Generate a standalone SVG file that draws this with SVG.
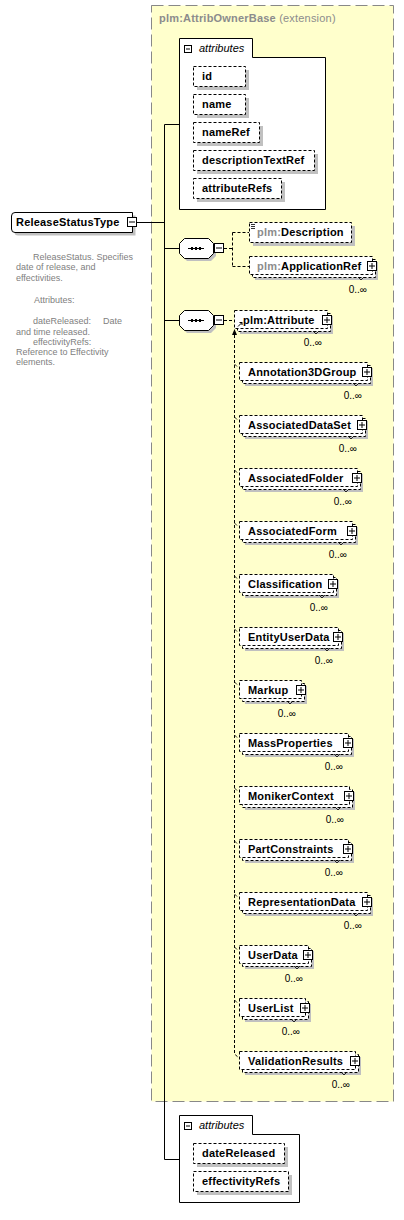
<svg xmlns="http://www.w3.org/2000/svg" width="404" height="1220" viewBox="0 0 404 1220">
<defs>
<style>
.sh{fill:#c0c0c0}
.bx{fill:#fff;stroke:#000;stroke-width:1;stroke-dasharray:3 2}
.sb{fill:#fff;stroke:#000;stroke-width:1}
.ln{fill:none;stroke:#000;stroke-width:1}
.dl{fill:none;stroke:#000;stroke-width:1;stroke-dasharray:3 2}
.nt{fill:none;stroke:#000;stroke-width:0.8}
.t{font-family:'Liberation Sans',Arial,sans-serif;font-size:11px;font-weight:bold;fill:#000;letter-spacing:0.2px}
.g{fill:#8c8c8c}
.o{font-family:'Liberation Sans',Arial,sans-serif;font-size:10px;fill:#000}
.d{font-family:'Liberation Sans',Arial,sans-serif;font-size:9px;fill:#808080}
.i{font-family:'Liberation Sans',Arial,sans-serif;font-size:11px;font-style:italic;fill:#000}
</style>
<g id="plus"><rect x="0.5" y="0.5" width="9" height="9" fill="#fff" stroke="#000"/><path d="M2,5H8M5,2V8" stroke="#000"/></g>
<g id="minus"><rect x="0.5" y="0.5" width="9" height="9" fill="#fff" stroke="#000"/><path d="M2,5H8" stroke="#000"/></g>
<g id="tabminus"><rect x="0.5" y="0.5" width="7" height="7" fill="#fff" stroke="#000"/><path d="M2,4H6" stroke="#000"/></g>
<g id="seq"><path class="sh" d="M8,3H32L37,8V18L32,23H8L3,18V8Z"/><path class="sb" d="M5.5,0.5H29.5L34.5,5.5V15.5L29.5,20.5H5.5L0.5,15.5V5.5Z"/><path d="M9,10.5H25" stroke="#000"/><rect x="12" y="9" width="2" height="3" fill="#000"/><rect x="16" y="9" width="2" height="3" fill="#000"/><rect x="20" y="9" width="2" height="3" fill="#000"/></g>
</defs>

<g id="extension">
<rect x="151.5" y="5.5" width="242" height="1096" fill="#ffffcc" stroke="#888" stroke-dasharray="12 5"/>
<text x="159" y="22" class="t" letter-spacing="0"><tspan class="g">plm:AttribOwnerBase</tspan><tspan class="g" font-weight="normal"> (extension)</tspan></text>
</g>

<g id="connectors">
<path class="ln" d="M164.5,124.5V1159.5M164.5,124.5H179.5M164.5,1159.5H179.5M137,222.5H164.5M164.5,248.5H179M164.5,320.5H179"/>
<path class="dl" d="M224,248.5H232.5M232.5,232.5V266.5M232.5,232.5H249M232.5,266.5H249M224,320.5H234"/>
<path class="dl" d="M234.5,335V1054L239,1058"/>
<polygon points="234.5,329 232,335 237,335" fill="#000"/>
<path class="nt" d="M234.5,364l2.5,2.5M234.5,417l2.5,2.5M234.5,470l2.5,2.5M234.5,523l2.5,2.5M234.5,576l2.5,2.5M234.5,629l2.5,2.5M234.5,682l2.5,2.5M234.5,735l2.5,2.5M234.5,788l2.5,2.5M234.5,841l2.5,2.5M234.5,894l2.5,2.5M234.5,947l2.5,2.5M234.5,1000l2.5,2.5"/>
</g>

<g id="ReleaseStatusType">
<path class="sh" d="M14.5,219Q14.5,215.5 18,215.5H135.5V235.5H18Q14.5,235.5 14.5,232Z"/>
<path class="sb" d="M11.5,216Q11.5,212.5 15,212.5H132.5V232.5H15Q11.5,232.5 11.5,229Z"/>
<text class="t" x="16" y="226" letter-spacing="0.1">ReleaseStatusType</text>
<use href="#minus" x="127" y="217"/>
<text class="d"><tspan x="33" y="259.5">ReleaseStatus. Specifies</tspan><tspan x="16" y="270">date of release, and</tspan><tspan x="16" y="280.5">effectivities.</tspan><tspan x="34" y="303">Attributes:</tspan><tspan x="33" y="324">dateReleased:</tspan><tspan x="103" y="324">Date</tspan><tspan x="16" y="334.5">and time released.</tspan><tspan x="33" y="344.5">effectivityRefs:</tspan><tspan x="16" y="355">Reference to Effectivity</tspan><tspan x="16" y="365">elements.</tspan></text>
</g>

<g id="attributes-base">
<path class="sb" d="M179.5,38.5H252.5V57.5H325.5V209.5H179.5Z"/>
<use href="#tabminus" x="184" y="45"/>
<text class="i" x="199" y="52">attributes</text>
<rect class="sh" x="197" y="70" width="52" height="20"/><rect class="bx" x="193.5" y="66.5" width="52" height="20"/><text class="t" x="202" y="80">id</text>
<rect class="sh" x="197" y="98" width="52" height="20"/><rect class="bx" x="193.5" y="94.5" width="52" height="20"/><text class="t" x="202" y="108">name</text>
<rect class="sh" x="197" y="126" width="66" height="20"/><rect class="bx" x="193.5" y="122.5" width="66" height="20"/><text class="t" x="202" y="136">nameRef</text>
<rect class="sh" x="197" y="154" width="121" height="20"/><rect class="bx" x="193.5" y="150.5" width="121" height="20"/><text class="t" x="202" y="164">descriptionTextRef</text>
<rect class="sh" x="197" y="182" width="88" height="20"/><rect class="bx" x="193.5" y="178.5" width="88" height="20"/><text class="t" x="202" y="192">attributeRefs</text>
</g>

<g id="sequence1"><use href="#seq" x="179" y="238"/><use href="#minus" x="214" y="243"/></g>
<g id="sequence2"><use href="#seq" x="179" y="310"/><use href="#minus" x="214" y="315"/></g>

<g id="Description">
<rect class="sh" x="253" y="226" width="102" height="20"/><rect class="bx" x="249.5" y="222.5" width="102" height="20"/>
<path d="M251,224.5h4M251,226.5h4M251,228.5h4" stroke="#000" stroke-width="0.8"/>
<text class="t" x="257" y="236"><tspan class="g">plm:</tspan>Description</text>
</g>

<g id="ApplicationRef">
<rect class="sh" x="255" y="262" width="123" height="18"/><rect class="bx" x="252.5" y="259.5" width="123" height="18"/><rect class="bx" x="249.5" y="256.5" width="123" height="18"/>
<use href="#plus" x="367" y="261"/><path class="nt" d="M358,277l3,3l3,-3"/>
<text class="t" x="257" y="270"><tspan class="g">plm:</tspan>ApplicationRef</text>
<text class="o" x="367" y="293" text-anchor="end">0..∞</text>
</g>

<g id="Attribute">
<rect class="sh" x="240" y="316" width="93" height="18"/><rect class="bx" x="237.5" y="313.5" width="93" height="18"/><rect class="bx" x="234.5" y="310.5" width="93" height="18"/>
<use href="#plus" x="322" y="315"/><path class="nt" d="M313,331l3,3l3,-3"/>
<path d="M238,326.5L242,322.5M239.5,322.5H242V325" stroke="#000" fill="none"/>
<text class="t" x="243" y="323.5">plm:Attribute</text>
<text class="o" x="322" y="346" text-anchor="end">0..∞</text>
</g>

<g id="Annotation3DGroup"><rect class="sh" x="245" y="368" width="128" height="18"/><rect class="bx" x="242.5" y="365.5" width="128" height="18"/><rect class="bx" x="239.5" y="362.5" width="128" height="18"/><use href="#plus" x="362" y="367"/><path class="nt" d="M353,383l3,3l3,-3"/><text class="t" x="248" y="376">Annotation3DGroup</text><text class="o" x="362" y="399" text-anchor="end">0..∞</text></g>

<g id="AssociatedDataSet"><rect class="sh" x="245" y="421" width="123" height="18"/><rect class="bx" x="242.5" y="418.5" width="123" height="18"/><rect class="bx" x="239.5" y="415.5" width="123" height="18"/><use href="#plus" x="357" y="420"/><path class="nt" d="M348,436l3,3l3,-3"/><text class="t" x="248" y="429">AssociatedDataSet</text><text class="o" x="357" y="452" text-anchor="end">0..∞</text></g>

<g id="AssociatedFolder"><rect class="sh" x="245" y="474" width="118" height="18"/><rect class="bx" x="242.5" y="471.5" width="118" height="18"/><rect class="bx" x="239.5" y="468.5" width="118" height="18"/><use href="#plus" x="352" y="473"/><path class="nt" d="M343,489l3,3l3,-3"/><text class="t" x="248" y="482">AssociatedFolder</text><text class="o" x="352" y="505" text-anchor="end">0..∞</text></g>

<g id="AssociatedForm"><rect class="sh" x="245" y="527" width="113" height="18"/><rect class="bx" x="242.5" y="524.5" width="113" height="18"/><rect class="bx" x="239.5" y="521.5" width="113" height="18"/><use href="#plus" x="347" y="526"/><path class="nt" d="M338,542l3,3l3,-3"/><text class="t" x="248" y="535">AssociatedForm</text><text class="o" x="347" y="558" text-anchor="end">0..∞</text></g>

<g id="Classification"><rect class="sh" x="245" y="580" width="94" height="18"/><rect class="bx" x="242.5" y="577.5" width="94" height="18"/><rect class="bx" x="239.5" y="574.5" width="94" height="18"/><use href="#plus" x="328" y="579"/><path class="nt" d="M319,595l3,3l3,-3"/><text class="t" x="248" y="588">Classification</text><text class="o" x="328" y="611" text-anchor="end">0..∞</text></g>

<g id="EntityUserData"><rect class="sh" x="245" y="633" width="99" height="18"/><rect class="bx" x="242.5" y="630.5" width="99" height="18"/><rect class="bx" x="239.5" y="627.5" width="99" height="18"/><use href="#plus" x="333" y="632"/><path class="nt" d="M324,648l3,3l3,-3"/><text class="t" x="248" y="641">EntityUserData</text><text class="o" x="333" y="664" text-anchor="end">0..∞</text></g>

<g id="Markup"><rect class="sh" x="245" y="686" width="62" height="18"/><rect class="bx" x="242.5" y="683.5" width="62" height="18"/><rect class="bx" x="239.5" y="680.5" width="62" height="18"/><use href="#plus" x="296" y="685"/><path class="nt" d="M287,701l3,3l3,-3"/><text class="t" x="248" y="694">Markup</text><text class="o" x="296" y="717" text-anchor="end">0..∞</text></g>

<g id="MassProperties"><rect class="sh" x="245" y="739" width="109" height="18"/><rect class="bx" x="242.5" y="736.5" width="109" height="18"/><rect class="bx" x="239.5" y="733.5" width="109" height="18"/><use href="#plus" x="343" y="738"/><path class="nt" d="M334,754l3,3l3,-3"/><text class="t" x="248" y="747">MassProperties</text><text class="o" x="343" y="770" text-anchor="end">0..∞</text></g>

<g id="MonikerContext"><rect class="sh" x="245" y="792" width="110" height="18"/><rect class="bx" x="242.5" y="789.5" width="110" height="18"/><rect class="bx" x="239.5" y="786.5" width="110" height="18"/><use href="#plus" x="344" y="791"/><path class="nt" d="M335,807l3,3l3,-3"/><text class="t" x="248" y="800">MonikerContext</text><text class="o" x="344" y="823" text-anchor="end">0..∞</text></g>

<g id="PartConstraints"><rect class="sh" x="245" y="845" width="109" height="18"/><rect class="bx" x="242.5" y="842.5" width="109" height="18"/><rect class="bx" x="239.5" y="839.5" width="109" height="18"/><use href="#plus" x="343" y="844"/><path class="nt" d="M334,860l3,3l3,-3"/><text class="t" x="248" y="853">PartConstraints</text><text class="o" x="343" y="876" text-anchor="end">0..∞</text></g>

<g id="RepresentationData"><rect class="sh" x="245" y="898" width="128" height="18"/><rect class="bx" x="242.5" y="895.5" width="128" height="18"/><rect class="bx" x="239.5" y="892.5" width="128" height="18"/><use href="#plus" x="362" y="897"/><path class="nt" d="M353,913l3,3l3,-3"/><text class="t" x="248" y="906">RepresentationData</text><text class="o" x="362" y="929" text-anchor="end">0..∞</text></g>

<g id="UserData"><rect class="sh" x="245" y="951" width="69" height="18"/><rect class="bx" x="242.5" y="948.5" width="69" height="18"/><rect class="bx" x="239.5" y="945.5" width="69" height="18"/><use href="#plus" x="303" y="950"/><path class="nt" d="M294,966l3,3l3,-3"/><text class="t" x="248" y="959">UserData</text><text class="o" x="303" y="982" text-anchor="end">0..∞</text></g>

<g id="UserList"><rect class="sh" x="245" y="1004" width="66" height="18"/><rect class="bx" x="242.5" y="1001.5" width="66" height="18"/><rect class="bx" x="239.5" y="998.5" width="66" height="18"/><use href="#plus" x="300" y="1003"/><path class="nt" d="M291,1019l3,3l3,-3"/><text class="t" x="248" y="1012">UserList</text><text class="o" x="300" y="1035" text-anchor="end">0..∞</text></g>

<g id="ValidationResults"><rect class="sh" x="245" y="1057" width="116" height="18"/><rect class="bx" x="242.5" y="1054.5" width="116" height="18"/><rect class="bx" x="239.5" y="1051.5" width="116" height="18"/><use href="#plus" x="350" y="1056"/><path class="nt" d="M341,1072l3,3l3,-3"/><text class="t" x="248" y="1065">ValidationResults</text><text class="o" x="350" y="1088" text-anchor="end">0..∞</text></g>

<g id="attributes-own">
<path class="sb" d="M179.5,1115.5H252.5V1134.5H299.5V1202.5H179.5Z"/>
<use href="#tabminus" x="184" y="1122"/>
<text class="i" x="199" y="1129">attributes</text>
<rect class="sh" x="197" y="1147" width="91" height="20"/><rect class="bx" x="193.5" y="1143.5" width="91" height="20"/><text class="t" x="202" y="1157">dateReleased</text>
<rect class="sh" x="197" y="1175" width="95" height="20"/><rect class="bx" x="193.5" y="1171.5" width="95" height="20"/><text class="t" x="202" y="1185">effectivityRefs</text>
</g>
</svg>
